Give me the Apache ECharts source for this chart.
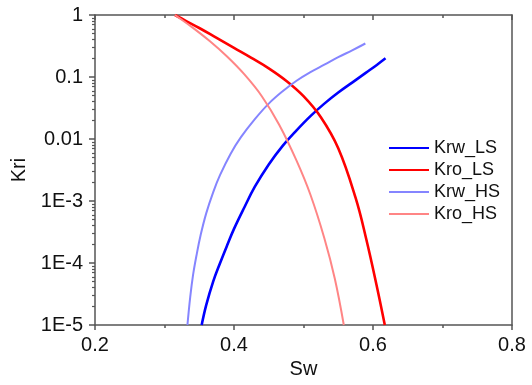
<!DOCTYPE html>
<html>
<head>
<meta charset="utf-8">
<script src="https://cdn.jsdelivr.net/npm/echarts@6/dist/echarts.min.js"></script>
<style>html,body{margin:0;padding:0;background:#fff}#c{width:532px;height:385px}</style>
</head>
<body>
<div id="c"></div>
<script>
// Sw values and relative permeabilities
const swKrwLS = [0.3535,0.36,0.37,0.38,0.39,0.40,0.415,0.43,0.45,0.47,0.49,0.51,0.53,0.55,0.57,0.59,0.605,0.618];
const krwLS   = [1e-5,2.09e-5,5.01e-5,1e-4,1.91e-4,3.55e-4,7.94e-4,0.0017,0.00389,0.00776,0.0138,0.0234,0.0372,0.0562,0.0813,0.1175,0.155,0.2];

const swKroLS = [0.315,0.33,0.35,0.375,0.40,0.425,0.45,0.475,0.50,0.525,0.55,0.575,0.59,0.605,0.617];
const kroLS   = [1,0.813,0.617,0.427,0.295,0.204,0.138,0.0871,0.049,0.0224,0.00708,0.00112,2.51e-4,4.47e-5,1e-5];

const swKrwHS = [0.333,0.337,0.341,0.346,0.352,0.36,0.37,0.38,0.395,0.41,0.43,0.45,0.47,0.49,0.51,0.53,0.55,0.57,0.589];
const krwHS   = [1e-5,2.82e-5,6.31e-5,1.32e-4,2.82e-4,6.31e-4,0.00138,0.00263,0.00575,0.0107,0.0209,0.0372,0.0589,0.0871,0.120,0.158,0.209,0.269,0.347];

const swKroHS = [0.315,0.34,0.365,0.39,0.415,0.44,0.465,0.49,0.51,0.53,0.545,0.558];
const kroHS   = [1,0.631,0.380,0.214,0.110,0.049,0.017,0.00447,0.00126,2.51e-4,5.62e-5,1e-5];

const seriesNames = ['Krw_LS','Kro_LS','Krw_HS','Kro_HS'];
const yTickLabels = {1:'1',0.1:'0.1',0.01:'0.01',0.001:'1E-3',0.0001:'1E-4',0.00001:'1E-5'};
const yMinorTicks = [];
[1e-5,1e-4,1e-3,1e-2,1e-1].forEach(d=>{for(let k=2;k<=9;k++) yMinorTicks.push(+(d*k).toPrecision(3));});

const zip = (xs, ys) => xs.map((x,i)=>[x, ys[i]]);
const FONT = '"Liberation Sans", Arial, sans-serif';
const axisCol = '#555';

const chart = echarts.init(document.getElementById('c'), null, {renderer:'canvas'});
chart.setOption({
  animation:false,
  backgroundColor:'#fff',
  grid:{left:95, right:20, top:15, bottom:60},
  legend:{
    orient:'vertical', left:388, top:139, padding:0, itemWidth:40, itemHeight:14, itemGap:4,
    itemStyle:{opacity:0},
    textStyle:{fontFamily:FONT, fontSize:18, color:'#111'},
    data:seriesNames
  },
  xAxis:[{
    type:'value', min:0.2, max:0.8, interval:0.2,
    name:'Sw', nameLocation:'middle', nameGap:33,
    nameTextStyle:{fontFamily:FONT, fontSize:20, color:'#111'},
    axisLine:{onZero:false, lineStyle:{color:axisCol, width:1.5}},
    axisTick:{inside:false, length:5, lineStyle:{color:axisCol, width:1.5}},
    minorTick:{show:true, splitNumber:2, length:3, lineStyle:{color:axisCol, width:1.5}},
    axisLabel:{fontFamily:FONT, fontSize:20, color:'#111', margin:10, formatter:v=>v.toFixed(1)},
    splitLine:{show:false}
  },{
    type:'value', position:'top', min:0.2, max:0.8, interval:0.2,
    axisLine:{onZero:false, lineStyle:{color:axisCol, width:1.5}},
    axisTick:{inside:true, length:5, lineStyle:{color:axisCol, width:1.5}},
    minorTick:{show:true, splitNumber:2, length:3, lineStyle:{color:axisCol, width:1.5}},
    axisLabel:{show:false}, splitLine:{show:false}
  }],
  yAxis:[{
    type:'log', logBase:10, min:1e-5, max:1,
    name:'Kri', nameLocation:'middle', nameGap:64,
    nameTextStyle:{fontFamily:FONT, fontSize:20, color:'#111'},
    axisLine:{lineStyle:{color:axisCol, width:1.5}},
    axisTick:{inside:false, length:6, lineStyle:{color:axisCol, width:1.5}},
    axisLabel:{fontFamily:FONT, fontSize:20, color:'#111', margin:12,
      formatter:v=>{for(const k in yTickLabels){ if(Math.abs(Math.log10(v)-Math.log10(+k))<1e-6) return yTickLabels[k]; } return '';}},
    splitLine:{show:false}
  },{
    type:'log', logBase:10, min:1e-5, max:1, position:'left',
    axisLine:{show:false},
    axisTick:{inside:false, length:3, customValues:yMinorTicks, lineStyle:{color:axisCol, width:1.2}},
    axisLabel:{show:false}, splitLine:{show:false}
  },{
    type:'log', logBase:10, min:1e-5, max:1, position:'right',
    axisLine:{show:true, lineStyle:{color:axisCol, width:1.5}},
    axisTick:{show:false}, axisLabel:{show:false}, splitLine:{show:false}
  }],
  series:[
    {name:'Krw_LS', type:'line', smooth:0.4, symbol:'none', data:zip(swKrwLS,krwLS), color:'#0000ff', lineStyle:{width:2.6}},
    {name:'Kro_LS', type:'line', smooth:0.4, symbol:'none', data:zip(swKroLS,kroLS), color:'#ff0000', lineStyle:{width:2.6}},
    {name:'Krw_HS', type:'line', smooth:0.4, symbol:'none', data:zip(swKrwHS,krwHS), color:'#8585ff', lineStyle:{width:2}},
    {name:'Kro_HS', type:'line', smooth:0.4, symbol:'none', data:zip(swKroHS,kroHS), color:'#ff8585', lineStyle:{width:2}}
  ]
});
</script>
</body>
</html>
